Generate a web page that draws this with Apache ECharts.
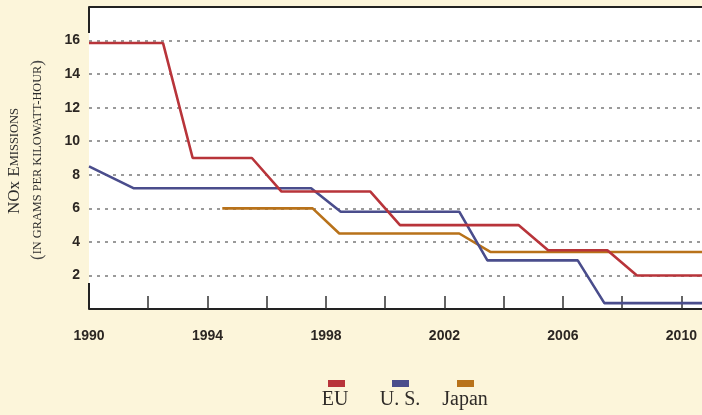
<!DOCTYPE html>
<html><head><meta charset="utf-8">
<script src="https://cdn.jsdelivr.net/npm/echarts@6/dist/echarts.min.js"></script>
<style>html,body{margin:0;padding:0;background:#fcf5da;}#c{width:702px;height:415px;}</style>
</head><body><div id="c"></div>
<script>
// Data
const seriesNames = ['EU', 'U. S.', 'Japan'];
const seriesColors = ['#b8343a', '#4a4d8c', '#b8721a'];
const euYears = [1990, 1992.5, 1993.5, 1995.5, 1996.5, 1999.5, 2000.5, 2004.5, 2005.5, 2007.5, 2008.5, 2011];
const euValues = [15.85, 15.85, 9, 9, 7, 7, 5, 5, 3.5, 3.5, 2, 2];
const usYears = [1990, 1991.5, 1997.5, 1998.5, 2002.5, 2003.45, 2006.5, 2007.4, 2011];
const usValues = [8.5, 7.2, 7.2, 5.8, 5.8, 2.9, 2.9, 0.35, 0.35];
const jpYears = [1994.5, 1997.55, 1998.45, 2002.5, 2003.55, 2011];
const jpValues = [6, 6, 4.5, 4.5, 3.4, 3.4];
const xLabelYears = [1990, 1994, 1998, 2002, 2006, 2010];
const yTickLabels = [2, 4, 6, 8, 10, 12, 14, 16];

function pairs(xs, ys) { return xs.map((x, i) => [x, ys[i]]); }
const allData = [pairs(euYears, euValues), pairs(usYears, usValues), pairs(jpYears, jpValues)];

const chart = echarts.init(document.getElementById('c'), null, {renderer: 'canvas'});
const labelFont = {fontFamily: '"Liberation Sans Narrow", "Liberation Sans", sans-serif', fontWeight: 'bold', fontSize: 14, color: '#2b2622'};
const serif = '"Liberation Serif", "DejaVu Serif", serif';

const legendLeft = [328, 392, 457];
const legendTextX = [335, 400, 465];

const option = {
  backgroundColor: '#fcf5da',
  animation: false,
  grid: {left: 89, top: 7, width: 622, height: 302, show: true, backgroundColor: '#ffffff', borderWidth: 0,
         containLabel: false, outerBoundsMode: 'none'},
  xAxis: [
    {type: 'value', min: 1990, max: 2011, interval: 2, position: 'bottom',
     axisLine: {show: true, lineStyle: {color: '#222', width: 2}},
     axisTick: {show: true, inside: true, length: 13, lineStyle: {color: '#333', width: 1.5}},
     axisLabel: Object.assign({margin: 20, formatter: v => xLabelYears.indexOf(v) >= 0 ? String(v) : ''}, labelFont),
     splitLine: {show: false}},
    {type: 'value', min: 1990, max: 2011, interval: 21, position: 'top',
     axisLine: {show: true, lineStyle: {color: '#222', width: 2}},
     axisTick: {show: true, inside: true, length: 26, lineStyle: {color: '#222', width: 2}},
     axisLabel: {show: false}, splitLine: {show: false}},
    {type: 'value', min: 1990, max: 2011, interval: 21, position: 'bottom',
     axisLine: {show: false},
     axisTick: {show: true, inside: true, length: 26, lineStyle: {color: '#222', width: 2}},
     axisLabel: {show: false}, splitLine: {show: false}}
  ],
  yAxis: {type: 'value', min: 0, max: 18, interval: 2,
    axisLine: {show: false}, axisTick: {show: false},
    axisLabel: Object.assign({margin: 9, formatter: v => yTickLabels.indexOf(v) >= 0 ? String(v) : ''}, labelFont),
    splitLine: {show: true, lineStyle: {color: '#7a7a7a', width: 1.5, type: [3, 5]}}
  },
  legend: seriesNames.map((n, i) => ({
    data: [n], left: legendLeft[i], top: 380, padding: 0, itemWidth: 17, itemHeight: 7,
    icon: 'rect', formatter: () => '', selectedMode: false, textStyle: {fontSize: 1}
  })),
  series: seriesNames.map((n, i) => ({
    name: n, type: 'line', xAxisIndex: 0, data: allData[i], showSymbol: false,
    lineStyle: {color: seriesColors[i], width: 2.6}, itemStyle: {color: seriesColors[i]}, z: 3 + (2 - i)
  })),
  graphic: [
    {type: 'text', x: 15, y: 161, rotation: Math.PI / 2,
     style: {text: '{a|NOx E}{b|MISSIONS}', align: 'center', verticalAlign: 'middle', fill: '#2a2a2a',
       rich: {a: {fontFamily: serif, fontSize: 17, fill: '#2a2a2a'}, b: {fontFamily: serif, fontSize: 12.5, fill: '#2a2a2a'}}}},
    {type: 'text', x: 38, y: 160, rotation: Math.PI / 2,
     style: {text: '{p|(}{b|IN GRAMS PER KILOWATT-HOUR}{p|)}', align: 'center', verticalAlign: 'middle', fill: '#2a2a2a',
       rich: {p: {fontFamily: serif, fontSize: 17, fill: '#444'}, b: {fontFamily: serif, fontSize: 12.3, fill: '#2a2a2a'}}}}
  ].concat(seriesNames.map((n, i) => ({
    type: 'text', x: legendTextX[i], y: 400,
    style: {text: n, font: '20px ' + serif, fill: '#2f2b28', align: 'center', verticalAlign: 'middle'}
  })))
};
chart.setOption(option);
</script></body></html>
